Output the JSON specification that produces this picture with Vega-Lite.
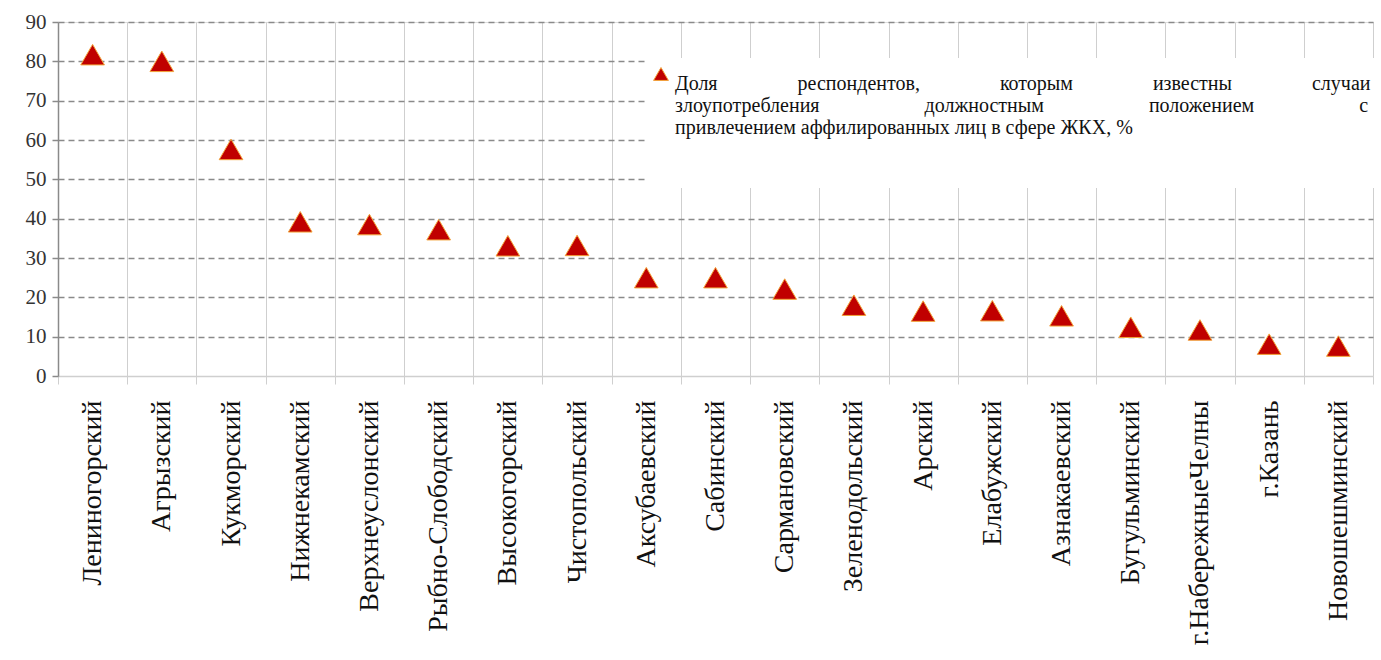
{
  "$schema": "https://vega.github.io/schema/vega-lite/v6.json",
  "width": 1315,
  "height": 354,
  "autosize": {"type": "none"},
  "padding": {"left": 58, "top": 22, "right": 8, "bottom": 284},
  "background": "white",
  "datasets": {
    "points": [
      {"district": "Лениногорский", "share": 81.7},
      {"district": "Агрызский", "share": 80.0},
      {"district": "Кукморский", "share": 57.6},
      {"district": "Нижнекамский", "share": 39.2},
      {"district": "Верхнеуслонский", "share": 38.5},
      {"district": "Рыбно-Слободский", "share": 37.2},
      {"district": "Высокогорский", "share": 33.1},
      {"district": "Чистопольский", "share": 33.2},
      {"district": "Аксубаевский", "share": 25.0},
      {"district": "Сабинский", "share": 25.0},
      {"district": "Сармановский", "share": 22.1},
      {"district": "Зеленодольский", "share": 18.0},
      {"district": "Арский", "share": 16.5},
      {"district": "Елабужский", "share": 16.6},
      {"district": "Азнакаевский", "share": 15.3},
      {"district": "Бугульминский", "share": 12.4},
      {"district": "г.НабережныеЧелны", "share": 11.7},
      {"district": "г.Казань", "share": 8.1},
      {"district": "Новошешминский", "share": 7.6}
    ]
  },
  "data": {"name": "points"},
  "mark": {"type": "point", "shape": "triangle-up", "filled": true, "size": 560, "stroke": "#f2a33a", "strokeWidth": 1, "opacity": 1},
  "encoding": {
    "x": {
      "field": "district",
      "type": "nominal",
      "sort": null,
      "title": null,
      "scale": {"paddingInner": 0, "paddingOuter": 0},
      "axis": {
        "tickBand": "extent",
        "grid": true,
        "gridColor": "#cfcfcf",
        "gridWidth": 1,
        "domainColor": "#cfcfcf",
        "domainWidth": 1.5,
        "ticks": true,
        "tickSize": 8,
        "tickColor": "#cfcfcf",
        "labelAngle": -90,
        "labelAlign": "right",
        "labelBaseline": "middle",
        "labelPadding": 16,
        "labelFont": "Liberation Serif",
        "labelFontSize": 28,
        "labelColor": "#111111",
        "labelLimit": 400
      }
    },
    "y": {
      "field": "share",
      "type": "quantitative",
      "title": null,
      "scale": {"domain": [0, 90], "nice": false, "zero": true},
      "axis": {
        "values": [0, 10, 20, 30, 40, 50, 60, 70, 80, 90],
        "grid": true,
        "gridColor": "#8a8a8a",
        "gridDash": [6, 4],
        "gridWidth": 1.5,
        "gridOpacity": {"condition": {"test": "datum.value === 0", "value": 0}, "value": 1},
        "domainColor": "#8a8a8a",
        "domainWidth": 1.5,
        "tickSize": 6,
        "tickColor": "#8a8a8a",
        "tickWidth": 1.5,
        "labelPadding": 6,
        "labelFont": "Liberation Serif",
        "labelFontSize": 21,
        "labelColor": "#333333"
      }
    },
    "color": {
      "datum": "Доля\u00a0\u00a0\u00a0\u00a0\u00a0\u00a0\u00a0\u00a0\u00a0\u00a0\u00a0\u00a0\u00a0\u00a0\u00a0\u00a0респондентов,\u00a0\u00a0\u00a0\u00a0\u00a0\u00a0\u00a0\u00a0\u00a0\u00a0\u00a0\u00a0\u00a0\u00a0\u00a0\u00a0которым\u00a0\u00a0\u00a0\u00a0\u00a0\u00a0\u00a0\u00a0\u00a0\u00a0\u00a0\u00a0\u00a0\u00a0\u00a0\u00a0известны\u00a0\u00a0\u00a0\u00a0\u00a0\u00a0\u00a0\u00a0\u00a0\u00a0\u00a0\u00a0\u00a0\u00a0\u00a0\u00a0случаи|\u00a0|злоупотребления\u00a0\u00a0\u00a0\u00a0\u00a0\u00a0\u00a0\u00a0\u00a0\u00a0\u00a0\u00a0\u00a0\u00a0\u00a0\u00a0\u00a0\u00a0\u00a0\u00a0\u00a0должностным\u00a0\u00a0\u00a0\u00a0\u00a0\u00a0\u00a0\u00a0\u00a0\u00a0\u00a0\u00a0\u00a0\u00a0\u00a0\u00a0\u00a0\u00a0\u00a0\u00a0\u00a0положением\u00a0\u00a0\u00a0\u00a0\u00a0\u00a0\u00a0\u00a0\u00a0\u00a0\u00a0\u00a0\u00a0\u00a0\u00a0\u00a0\u00a0\u00a0\u00a0\u00a0\u00a0с|\u00a0|привлечением аффилированных лиц в сфере ЖКХ, %",
      "type": "nominal",
      "scale": {"range": ["#c00000"]},
      "legend": {
        "title": null,
        "orient": "none",
        "legendX": 587,
        "legendY": 36,
        "fillColor": "white",
        "padding": 6,
        "symbolType": "triangle-up",
        "symbolSize": 220,
        "symbolStrokeColor": "#f2a33a",
        "symbolStrokeWidth": 1,
        "labelFont": "Liberation Serif",
        "labelFontSize": 20,
        "labelColor": "#111111",
        "labelLimit": 900,
        "labelOffset": 4,
        "labelBaseline": "top",
        "labelExpr": "split(datum.label, '|')"
      }
    }
  }
}
